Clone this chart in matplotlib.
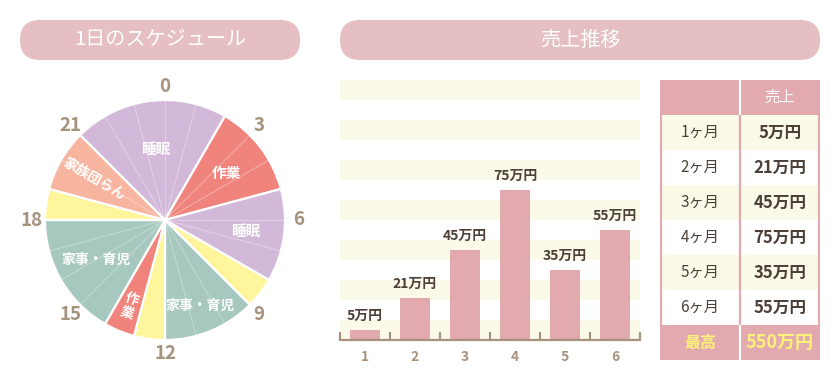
import numpy as np
import matplotlib
matplotlib.use("Agg")
import matplotlib.pyplot as plt
from matplotlib.patches import FancyBboxPatch, Rectangle

plt.rcParams['font.family'] = ['Noto Sans CJK JP', 'DejaVu Sans']

# --- data ---
schedule_labels = ['睡眠', '作業', '睡眠', '', '家事・育児', '', '作業', '家事・育児', '', '家族団らん']
schedule_hours = [5, 3, 3, 1, 3, 1, 1, 4, 1, 2]
start_hour = 21
hour_ticks = [0, 3, 6, 9, 12, 15, 18, 21]

months = [1, 2, 3, 4, 5, 6]
sales = [5, 21, 45, 75, 35, 55]
best_sales = 550

# colours
PURPLE = '#d3b9d9'
CORAL = '#f0847c'
YELLOW = '#fff59d'
TEAL = '#a6c8be'
SALMON = '#f7b5a0'
seg_colors = [PURPLE, CORAL, PURPLE, YELLOW, TEAL, YELLOW, CORAL, TEAL, YELLOW, SALMON]
PILL = '#e5bfc1'
PINK = '#e2a9ae'
CREAM = '#fbfae9'
BROWN = '#4b3f38'
GREYBROWN = '#a6937d'
GOLD = '#fff27a'

W, H = 840, 380


def box(x0, y0, x1, y1):
    return [x0 / W, 1 - y1 / H, (x1 - x0) / W, (y1 - y0) / H]


fig = plt.figure(figsize=(8.4, 3.8), dpi=100)

# title pills
ax0 = fig.add_axes([0, 0, 1, 1])
ax0.set_xlim(0, W)
ax0.set_ylim(H, 0)
ax0.axis('off')
for (x0, x1, title) in [(20, 300, '1日のスケジュール'), (340, 820, '売上推移')]:
    ax0.add_patch(FancyBboxPatch((x0, 20), x1 - x0, 40,
                                 boxstyle="round,pad=0,rounding_size=20",
                                 fc=PILL, ec='none'))
    ax0.text((x0 + x1) / 2, 40, title, ha='center', va='center',
             color='white', fontsize=14.5)

# --- pie: daily schedule ---
axp = fig.add_axes(box(25, 80, 305, 360))
axp.pie(schedule_hours, colors=seg_colors, startangle=90 - start_hour * 15 + 360,
        counterclock=False, wedgeprops=dict(edgecolor='white', linewidth=1.6))
for h in range(24):
    a = np.deg2rad(90 - h * 15)
    axp.plot([0, np.cos(a)], [0, np.sin(a)], color='white', alpha=0.35, lw=0.7)
for h in hour_ticks:
    a = np.deg2rad(90 - h * 15)
    axp.text(1.11 * np.cos(a), 1.11 * np.sin(a), str(h), ha='center', va='center',
             fontsize=13.5, fontweight='bold', color=GREYBROWN)

label_r = [0.6, 0.64, 0.68, 0, 0.77, 0, 0.78, 0.66, 0, 0.68]
cum = start_hour
for lab, hrs, r in zip(schedule_labels, schedule_hours, label_r):
    mid = cum + hrs / 2
    cum += hrs
    if not lab:
        continue
    a = np.deg2rad(90 - mid * 15)
    x, y = r * np.cos(a), r * np.sin(a)
    if lab == '家族団らん':
        axp.text(x, y, lab, ha='center', va='center', color='white', fontsize=10,
                 fontweight='bold', rotation=-30, rotation_mode='anchor')
    elif hrs == 1:
        axp.text(x, y, '\n'.join(lab), ha='center', va='center', color='white',
                 fontsize=10, fontweight='bold', rotation=-18, linespacing=1.0)
    else:
        axp.text(x, y, lab, ha='center', va='center', color='white',
                 fontsize=10 if len(lab) > 2 else 10.5, fontweight='bold')
lim = 140 / 120
axp.set_xlim(-lim, lim)
axp.set_ylim(-lim, lim)
axp.set_aspect('equal')
axp.axis('off')

# --- bar chart: sales ---
axb = fig.add_axes(box(340, 80, 640, 340))
for lo in range(0, 130, 20):
    axb.axhspan(lo, lo + 10, color=CREAM, lw=0, zorder=0)
axb.bar(months, sales, width=0.6, color=PINK, zorder=2)
for m, v in zip(months, sales):
    axb.text(m, v + 3.5, f'{v}万円', ha='center', va='bottom', fontsize=10,
             fontweight='bold', color=BROWN)
axb.set_xlim(0.5, 6.5)
axb.set_ylim(0, 130)
for s in ['top', 'left', 'right']:
    axb.spines[s].set_visible(False)
axb.spines['bottom'].set_color(GREYBROWN)
axb.spines['bottom'].set_linewidth(1.6)
axb.set_yticks([])
axb.set_xticks(months)
axb.set_xticklabels([str(m) for m in months])
axb.set_xticks(np.arange(0.5, 7, 1), minor=True)
axb.tick_params(axis='x', which='major', length=0, pad=7, labelsize=10,
                labelcolor=GREYBROWN)
axb.tick_params(axis='x', which='minor', direction='in', length=6, width=1.6,
                color=GREYBROWN)
for t in axb.get_xticklabels():
    t.set_fontweight('bold')
axb.set_facecolor('none')

# --- table ---
axt = fig.add_axes(box(660, 80, 820, 360))
axt.set_xlim(0, 2)
axt.set_ylim(8, 0)
axt.axis('off')
n = len(months)
axt.add_patch(Rectangle((0, 0), 2, 1, fc=PINK, ec='none'))
axt.add_patch(Rectangle((0, n + 1), 2, 1, fc=PINK, ec='none'))
for i in range(n):
    axt.add_patch(Rectangle((0, i + 1), 2, 1, fc=CREAM if i % 2 == 0 else 'white', ec='none'))
px = 1 / 80
axt.vlines([px, 2 - px], 0, n + 2, color=PINK, lw=1.6)
axt.vlines(1, 1, n + 1, color=PINK, lw=1.6)
axt.vlines([1, 1], [0, n + 1], [1, n + 2], color='white', lw=1.6)

axt.text(1.5, 0.5, '売上', ha='center', va='center', color='white', fontsize=11)
for i, (m, v) in enumerate(zip(months, sales)):
    axt.text(0.5, i + 1.5, f'{m}ヶ月', ha='center', va='center', color=BROWN, fontsize=11)
    axt.text(1.5, i + 1.5, f'{v}万円', ha='center', va='center', color=BROWN,
             fontsize=12, fontweight='bold')
axt.text(0.5, n + 1.5, '最高', ha='center', va='center', color=GOLD, fontsize=11.5,
         fontweight='bold')
axt.text(1.5, n + 1.5, f'{best_sales}万円', ha='center', va='center', color=GOLD,
         fontsize=13, fontweight='bold')

fig.savefig('out.png', dpi=100)
